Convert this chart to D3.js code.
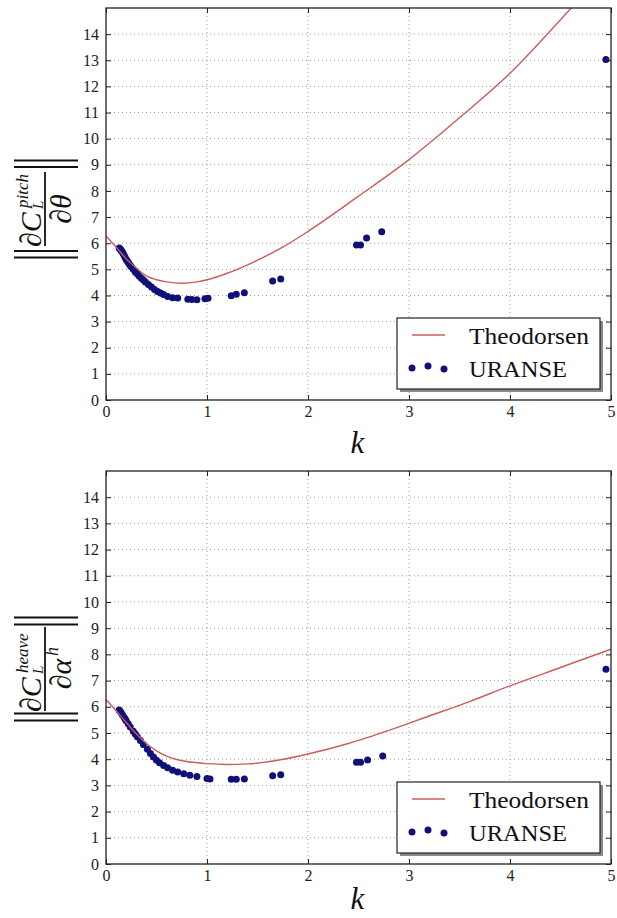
<!DOCTYPE html>
<html><head><meta charset="utf-8">
<script src="https://cdn.jsdelivr.net/npm/d3@7"></script>
<style>
html,body{margin:0;padding:0;background:#fff;}
svg{display:block;}
svg text{font-family:'Liberation Serif','DejaVu Serif',serif;}
</style></head>
<body>
<svg id="chart" width="617" height="918"></svg>
<script>
// ---------- data ----------
const xTicks = [0, 1, 2, 3, 4, 5];
const yTicks = [0,1,2,3,4,5,6,7,8,9,10,11,12,13,14];

const theoPitchK = [0,0.1,0.2,0.3,0.4,0.5,0.6,0.75,0.9,1.0,1.2,1.5,1.75,2.0,2.5,3.0,3.5,4.0,4.5,4.7];
const theoPitchV = [6.28,5.85,5.4,5.05,4.75,4.6,4.52,4.47,4.52,4.6,4.85,5.35,5.85,6.45,7.8,9.2,10.8,12.5,14.55,15.4];

const theoHeaveK = [0,0.1,0.2,0.3,0.4,0.5,0.6,0.7,0.8,1.0,1.2,1.4,1.7,2.0,2.4,2.8,3.2,3.6,4.0,4.5,5.0];
const theoHeaveV = [6.28,5.85,5.4,4.97,4.6,4.32,4.12,3.99,3.91,3.83,3.80,3.82,3.96,4.2,4.6,5.1,5.65,6.2,6.8,7.5,8.2];

const uransePitchK = [0.13,0.135,0.145,0.15,0.155,0.165,0.17,0.18,0.19,0.20,0.21,0.22,0.23,0.24,0.25,0.27,0.29,0.31,0.33,0.35,0.37,0.39,0.42,0.45,0.48,0.51,0.54,0.57,0.61,0.66,0.71,0.81,0.85,0.90,0.98,1.01,1.24,1.29,1.37,1.65,1.73,2.48,2.52,2.58,2.73,4.95];
const uransePitchV = [5.82,5.80,5.76,5.72,5.70,5.64,5.60,5.53,5.45,5.38,5.32,5.26,5.20,5.15,5.10,5.00,4.90,4.82,4.74,4.66,4.59,4.52,4.42,4.32,4.23,4.15,4.09,4.04,3.96,3.91,3.90,3.86,3.85,3.84,3.87,3.89,3.99,4.05,4.10,4.55,4.63,5.93,5.93,6.20,6.44,13.03];

const uranseHeaveK = [0.13,0.135,0.145,0.155,0.165,0.18,0.19,0.20,0.22,0.24,0.27,0.29,0.31,0.34,0.37,0.41,0.44,0.47,0.50,0.53,0.57,0.61,0.66,0.71,0.77,0.83,0.90,1.00,1.03,1.24,1.29,1.37,1.65,1.73,2.48,2.52,2.59,2.74,4.95];
const uranseHeaveV = [5.88,5.85,5.80,5.74,5.68,5.59,5.53,5.47,5.35,5.23,5.07,4.96,4.86,4.71,4.56,4.38,4.22,4.08,3.96,3.86,3.76,3.67,3.58,3.51,3.44,3.39,3.34,3.26,3.24,3.23,3.23,3.24,3.37,3.41,3.88,3.88,3.97,4.12,7.43];

const legendLabels = ["Theodorsen", "URANSE"];

// ---------- drawing ----------
const svg = d3.select("#chart");
const SERIF = "'Liberation Serif','DejaVu Serif',serif";
const LEFT = 106, RIGHT = 611;
const lineColor = "#cd5c5c", dotColor = "#10107a";

function panel(id, top, bottom, theoK, theoV, urK, urV, labelFn, labelCY, xlabOff) {
  const x = d3.scaleLinear().domain([0, 5]).range([LEFT, RIGHT]);
  const y = d3.scaleLinear().domain([0, 15]).range([bottom, top]);
  const g = svg.append("g");

  g.append("clipPath").attr("id", "clip" + id)
    .append("rect").attr("x", LEFT).attr("y", top).attr("width", RIGHT - LEFT).attr("height", bottom - top);

  const grid = g.append("g").attr("stroke", "#9a9a9a").attr("stroke-width", 1).attr("stroke-dasharray", "1,3");
  xTicks.filter(t => t > 0 && t < 5).forEach(t => {
    grid.append("line").attr("x1", x(t)).attr("x2", x(t)).attr("y1", top).attr("y2", bottom);
  });
  yTicks.filter(t => t > 0).forEach(t => {
    grid.append("line").attr("x1", LEFT).attr("x2", RIGHT).attr("y1", y(t)).attr("y2", y(t));
  });

  const plot = g.append("g").attr("clip-path", `url(#clip${id})`);
  plot.selectAll("circle").data(urK.map((k, i) => [k, urV[i]])).join("circle")
    .attr("cx", d => x(d[0])).attr("cy", d => y(d[1])).attr("r", 3.5)
    .attr("fill", dotColor);
  const line = d3.line().x(d => x(d[0])).y(d => y(d[1])).curve(d3.curveMonotoneX);
  plot.append("path").datum(theoK.map((k, i) => [k, theoV[i]]))
    .attr("d", line).attr("fill", "none").attr("stroke", lineColor).attr("stroke-width", 1.4);

  const styleAxis = sel => {
    sel.attr("font-family", null);
    sel.select(".domain").remove();
    sel.selectAll("line").attr("stroke", "#222").attr("stroke-width", 1);
    sel.selectAll("text").style("font-family", SERIF).style("font-size", "16px").attr("fill", "#222");
  };
  g.append("g").attr("transform", `translate(0,${bottom})`)
    .call(d3.axisBottom(x).tickValues(xTicks).tickSize(-5).tickPadding(6).tickFormat(d3.format("d"))).call(styleAxis);
  g.append("g").attr("transform", `translate(0,${top})`)
    .call(d3.axisTop(x).tickValues(xTicks).tickSize(-5).tickFormat("")).call(styleAxis);
  g.append("g").attr("transform", `translate(${LEFT},0)`)
    .call(d3.axisLeft(y).tickValues(yTicks).tickSize(-5).tickPadding(7).tickFormat(d3.format("d"))).call(styleAxis);
  g.append("g").attr("transform", `translate(${RIGHT},0)`)
    .call(d3.axisRight(y).tickValues(yTicks).tickSize(-5).tickFormat("")).call(styleAxis);

  g.append("rect").attr("x", LEFT).attr("y", top).attr("width", RIGHT - LEFT).attr("height", bottom - top)
    .attr("fill", "none").attr("stroke", "#222").attr("stroke-width", 1.3);

  g.append("text").attr("x", (LEFT + RIGHT) / 2 - 1).attr("y", bottom + xlabOff)
    .attr("text-anchor", "middle").style("font-family", SERIF).attr("font-style", "italic")
    .attr("font-size", 31).attr("fill", "#111").text("k");

  const lw = 203, lh = 71, lx = RIGHT - 11 - lw, ly = bottom - 11 - lh;
  const lg = g.append("g");
  lg.append("rect").attr("x", lx + 3).attr("y", ly + 3).attr("width", lw).attr("height", lh).attr("fill", "#8a8a8a");
  lg.append("rect").attr("x", lx).attr("y", ly).attr("width", lw).attr("height", lh)
    .attr("fill", "#fff").attr("stroke", "#222").attr("stroke-width", 1.2);
  lg.append("line").attr("x1", lx + 15).attr("x2", lx + 48).attr("y1", ly + 17).attr("y2", ly + 17)
    .attr("stroke", lineColor).attr("stroke-width", 1.4);
  [[15, 50], [31, 48], [47, 51]].forEach(p => {
    lg.append("circle").attr("cx", lx + p[0]).attr("cy", ly + p[1]).attr("r", 3.5).attr("fill", dotColor);
  });
  lg.append("text").attr("x", lx + 72).attr("y", ly + 26).attr("font-size", 23)
    .attr("textLength", 120).attr("lengthAdjust", "spacingAndGlyphs").attr("fill", "#111").text(legendLabels[0]);
  lg.append("text").attr("x", lx + 72).attr("y", ly + 59).attr("font-size", 23)
    .attr("textLength", 98).attr("lengthAdjust", "spacingAndGlyphs").attr("fill", "#111").text(legendLabels[1]);

  const yl = g.append("g").attr("transform", `translate(45,${labelCY}) rotate(-90)`);
  labelFn(yl);
}

function normBars(gl, inner, outer, y0, y1) {
  [-outer, -inner, inner, outer].forEach(v => {
    gl.append("line").attr("x1", v).attr("x2", v).attr("y1", y0).attr("y2", y1)
      .attr("stroke", "#111").attr("stroke-width", 2);
  });
}
function tx(gl, x, y, size, str, anchor) {
  return gl.append("text").attr("x", x).attr("y", y)
    .attr("font-style", "italic").attr("font-size", size).attr("fill", "#111")
    .attr("text-anchor", anchor || "start").text(str);
}

function pitchLabel(gl) {
  normBars(gl, 42, 48.5, -31, 33);
  gl.append("line").attr("x1", -37).attr("x2", 37).attr("y1", 0).attr("y2", 0).attr("stroke", "#111").attr("stroke-width", 1.8);
  tx(gl, -38, -4, 30, "\u2202C");
  tx(gl, 1, -17, 17, "pitch");
  tx(gl, 0, -2, 15, "L");
  tx(gl, 0, 26, 30, "\u2202\u03B8", "middle");
}
function heaveLabel(gl) {
  normBars(gl, 44.5, 51.5, -31, 33);
  gl.append("line").attr("x1", -42).attr("x2", 42).attr("y1", 0).attr("y2", 0).attr("stroke", "#111").attr("stroke-width", 1.8);
  tx(gl, -43, -4, 30, "\u2202C");
  tx(gl, -4, -17, 17, "heave");
  tx(gl, -5, -2, 15, "L");
  tx(gl, -5, 26, 30, "\u2202\u03B1", "middle");
  tx(gl, 13, 13, 18, "h");
}

panel("a", 8, 400, theoPitchK, theoPitchV, uransePitchK, uransePitchV, pitchLabel, 209, 53);
panel("b", 471, 864, theoHeaveK, theoHeaveV, uranseHeaveK, uranseHeaveV, heaveLabel, 669, 45);
</script>
</body></html>
